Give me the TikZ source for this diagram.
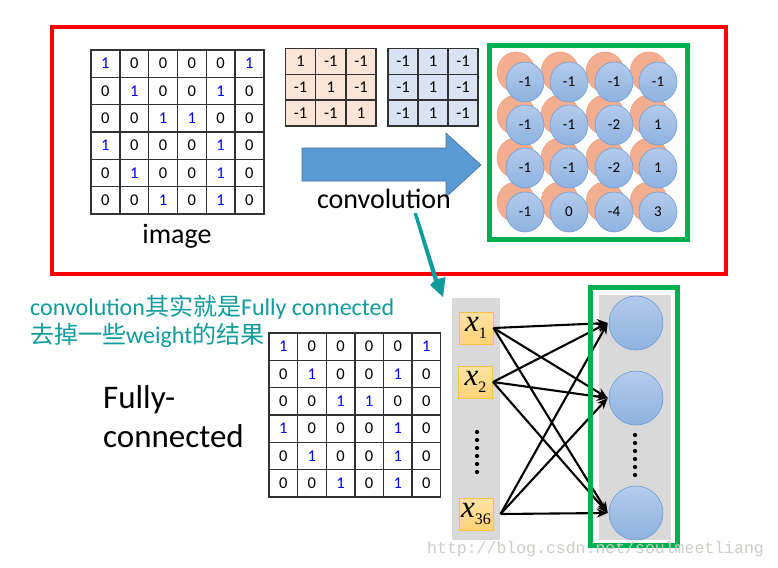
\documentclass[tikz,border=0pt]{standalone}
\usepackage{fontspec}
\setmainfont{Carlito}
\newfontfamily\cjk{Noto Sans CJK SC}
\newfontfamily\tnr{Liberation Serif}
\newfontfamily\wmono{Liberation Mono}
\usetikzlibrary{arrows.meta,shapes.geometric}
\definecolor{numblue}{RGB}{0,0,255}
\definecolor{gridline}{RGB}{50,50,50}
\definecolor{korange}{RGB}{251,229,214}
\definecolor{kblue}{RGB}{218,227,243}
\definecolor{arrowfill}{RGB}{91,155,213}
\definecolor{arrowline}{RGB}{65,113,156}
\definecolor{myred}{RGB}{255,0,0}
\definecolor{mygreen}{RGB}{0,176,80}
\definecolor{circtop}{RGB}{180,203,236}
\definecolor{circbot}{RGB}{142,178,224}
\definecolor{circline}{RGB}{110,156,214}
\definecolor{orfill}{RGB}{243,174,144}
\definecolor{orline}{RGB}{238,160,128}
\definecolor{myteal}{RGB}{16,156,156}
\definecolor{colgray}{RGB}{217,217,217}
\definecolor{xtop}{RGB}{255,228,165}
\definecolor{xbot}{RGB}{255,210,120}
\definecolor{xline}{RGB}{250,192,70}
\definecolor{wmgray}{RGB}{205,205,200}
\newcommand\onecol{numblue}
\newcommand\numgrid[7]{%
  \foreach \row [count=\r] in {#7} {
    \foreach \v [count=\c] in \row {
      \node[cellbox, #6, minimum width=#4, minimum height=#5] (#1-\r-\c)
        at ({#2+(\c-0.5)*#4},{#3+(\r-0.5)*#5}) {\ifnum\v=1 \textcolor{\onecol}{1}\else\v\fi};
    }
  }
}
\tikzset{
  cellbox/.style={draw=gridline, line width=1.4pt, inner sep=0pt, outer sep=0pt,
    font=\fontsize{16.5}{16.5}\selectfont},
  bluecirc/.style={ellipse, draw=circline, line width=0.6pt, top color=circtop,
    bottom color=circbot, minimum width=38, minimum height=40, inner sep=0pt,
    font=\fontsize{15}{15}\selectfont},
  orcirc/.style={ellipse, draw=orline, line width=0.6pt, fill=orfill,
    minimum width=38, minimum height=40, inner sep=0pt},
  fccirc/.style={circle, draw=circline, line width=0.6pt, top color=circtop,
    bottom color=circbot, minimum size=54, inner sep=0pt},
  xbox/.style={draw=xline, line width=1pt, top color=xtop, bottom color=xbot,
    minimum width=34, minimum height=32, inner sep=0pt,
    font=\tnr\fontsize{31}{31}\selectfont},
  fcarrow/.style={line width=2.1pt, -{Stealth[length=11pt,width=9pt]}},
  label28/.style={font=\fontsize{28}{28}\selectfont, inner sep=0pt, anchor=base},
  dotmark/.style={circle, fill=black, minimum size=4.2pt, inner sep=0pt},
}
\begin{document}
\begin{tikzpicture}[x=1pt,y=-1pt]
\useasboundingbox (0,0) rectangle (778,567);
\fill[white] (0,0) rectangle (778,567);

% ---------- top panel ----------
\draw[myred, line width=4.5pt] (52,27) rectangle (726,274);

\renewcommand\onecol{numblue}
\numgrid{img}{91}{50}{28.8}{27.33}{fill=white}{{1,0,0,0,0,1},{0,1,0,0,1,0},{0,0,1,1,0,0},{1,0,0,0,1,0},{0,1,0,0,1,0},{0,0,1,0,1,0}}
\node[label28] (imglabel) at (177,243) {image};

\renewcommand\onecol{black}
\numgrid{ka}{285.5}{48.5}{30.2}{25.8}{fill=korange}{{1,-1,-1},{-1,1,-1},{-1,-1,1}}
\numgrid{kb}{388}{48.5}{30}{25.8}{fill=kblue}{{-1,1,-1},{-1,1,-1},{-1,1,-1}}

\draw[fill=arrowfill, draw=arrowline, line width=0.6pt]
  (302,148) -- (446,148) -- (446,133) -- (481,165) -- (446,197) -- (446,181) -- (302,181) -- cycle;
\node[label28] (convlabel) at (384,208) {convolution};

% feature map
\foreach \cy [count=\r] in {82,125,168,212} {
  \foreach \cx [count=\c] in {525,569,614,658} {
    \node[orcirc] (o-\r-\c) at (\cx-9,\cy-10) {};
  }
}
\foreach \cy [count=\r] in {82,125,168,212} {
  \foreach \cx [count=\c] in {525,569,614,658} {
    \node[bluecirc] (b-\r-\c) at (\cx,\cy) {};
  }
}
\foreach \r/\vals in {1/{-1,-1,-1,-1},2/{-1,-1,-2,1},3/{-1,-1,-2,1},4/{-1,0,-4,3}} {
  \foreach \v [count=\c] in \vals {
    \node[font=\fontsize{15}{15}\selectfont, inner sep=0pt] (t-\r-\c) at (b-\r-\c) {\v};
  }
}
\draw[mygreen, line width=5pt] (489.5,45.5) rectangle (687,239.5);

% callout
\fill[myteal] (413.5,213) -- (417,213) -- (438,279) -- (445.5,277) -- (443,297)
  -- (430,285) -- (434,281) -- cycle;

% ---------- bottom panel ----------
\node[anchor=base west, inner sep=0pt, text=myteal, font=\fontsize{24}{24}\selectfont]
  (t1) at (30,315) {convolution{\cjk 其实就是}Fully connected};
\node[anchor=base west, inner sep=0pt, text=myteal, font=\fontsize{24}{24}\selectfont]
  (t2) at (30,343) {{\cjk 去掉一些}weight{\cjk 的结果}};
\node[anchor=base west, inner sep=0pt, font=\fontsize{33}{33}\selectfont] (fc1) at (103,408) {Fully-};
\node[anchor=base west, inner sep=0pt, font=\fontsize{33}{33}\selectfont] (fc2) at (103,447) {connected};

\renewcommand\onecol{numblue}
\numgrid{fg}{269}{333}{28.6}{27.33}{fill=white}{{1,0,0,0,0,1},{0,1,0,0,1,0},{0,0,1,1,0,0},{1,0,0,0,1,0},{0,1,0,0,1,0},{0,0,1,0,1,0}}

\fill[colgray] (452,298) rectangle (500,540);
\fill[colgray] (599,295) rectangle (671,540);

\node[xbox] (x1) at (476,328) {\itshape x\raisebox{-7pt}{\upshape\fontsize{16}{16}\selectfont 1}};
\node[xbox] (x2) at (475.5,382) {\itshape x\raisebox{-7pt}{\upshape\fontsize{16}{16}\selectfont 2}};
\node[xbox] (x36) at (476,514) {\itshape x\raisebox{-7pt}{\upshape\fontsize{16}{16}\selectfont 36}};
\foreach \k in {0,...,5} { \node[dotmark] (ld\k) at (477,432+8*\k) {}; }

\node[fccirc] (c1) at (636,323) {};
\node[fccirc] (c2) at (636,398) {};
\node[fccirc] (c3) at (636,513) {};
\foreach \k in {0,...,5} { \node[dotmark] (rd\k) at (635,435+8*\k) {}; }

\coordinate (s1) at (x1.east);
\coordinate (s2) at (x2.east);
\coordinate (s36) at ([xshift=7pt]x36.east);
\foreach \s in {s1,s2,s36} {
  \foreach \t in {c1,c2,c3} {
    \draw[fcarrow] (\s) -- ([xshift=-1pt]\t.west);
  }
}
\draw[mygreen, line width=5pt] (590.5,287.5) rectangle (677.5,545.5);

\node[anchor=base west, inner sep=0pt, text=wmgray, font=\wmono\fontsize{16.5}{16.5}\selectfont]
  (wm) at (427,553) {http://blog.csdn.net/soulmeetliang};
\end{tikzpicture}
\end{document}
